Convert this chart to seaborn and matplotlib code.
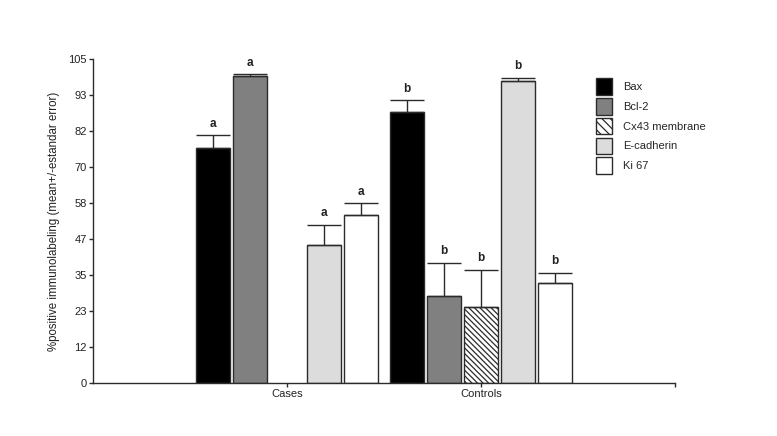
import numpy as np
import pandas as pd
import matplotlib
matplotlib.use('Agg')
import matplotlib.pyplot as plt
import seaborn as sns

# values
groups = ['Cases', 'Controls']
markers = ['Bax', 'Bcl-2', 'Cx43 membrane', 'E-cadherin', 'Ki 67']
cases_mean = [76.0, 99.5, np.nan, 44.8, 54.4]
cases_err = [4.3, 0.6, np.nan, 6.5, 3.8]
controls_mean = [87.7, 28.2, 24.5, 97.9, 32.5]
controls_err = [3.9, 10.7, 12.1, 1.1, 3.2]
cases_letter = ['a', 'a', '', 'a', 'a']
controls_letter = ['b', 'b', 'b', 'b', 'b']
ytick_vals = [0, 105 / 9, 2 * 105 / 9, 35, 4 * 105 / 9, 5 * 105 / 9, 70, 7 * 105 / 9, 8 * 105 / 9, 105]
ytick_labels = ['0', '12', '23', '35', '47', '58', '70', '82', '93', '105']

colors = {'Bax': '#000000', 'Bcl-2': '#808080', 'Cx43 membrane': '#ffffff',
          'E-cadherin': '#dcdcdc', 'Ki 67': '#ffffff'}
edge = '#2b2b2b'
hatch = '\\' * 6

# build long table, drop the missing Cx43 bar for cases
df = pd.DataFrame({
    'group': ['Cases'] * 5 + ['Controls'] * 5,
    'marker': markers * 2,
    'value': cases_mean + controls_mean,
    'err': cases_err + controls_err,
    'letter': cases_letter + controls_letter,
})
df = df.dropna(subset=['value']).reset_index(drop=True)

sns.set_style('white')
plt.rcParams['font.family'] = ['Liberation Sans', 'DejaVu Sans']
plt.rcParams['hatch.linewidth'] = 0.9

fig = plt.figure(figsize=(7.77, 4.36), dpi=100)
ax = fig.add_axes([0.1197, 0.1216, 0.7490, 0.7431])

sns.barplot(data=df, x='group', y='value', hue='marker', order=groups, hue_order=markers,
            palette=colors, width=0.95, gap=0.07, edgecolor=edge, linewidth=1.0,
            errorbar=None, ax=ax)

# one-sided error bars + letters, matched to bars by height
bars = [p for p in ax.patches if p.get_height() > 0]
for _, row in df.iterrows():
    p = min(bars, key=lambda b: abs(b.get_height() - row['value']))
    xc = p.get_x() + p.get_width() / 2
    if row['marker'] == 'Cx43 membrane':
        p.set_hatch(hatch)
    ax.errorbar(xc, row['value'], yerr=[[0], [row['err']]], fmt='none', ecolor=edge,
                elinewidth=1.0, capsize=12.5, capthick=1.0, zorder=3)
    ax.annotate(row['letter'], (xc, row['value'] + row['err']), xytext=(0, 4),
                textcoords='offset points', ha='center', va='bottom',
                fontsize=8.5, fontweight='bold', color='#222222')

ax.set_xlim(-1, 2)
ax.set_ylim(0, 105)
ax.set_yticks(ytick_vals)
ax.set_yticklabels(ytick_labels)
ax.set_xticks([0, 1, 2])
ax.set_xticklabels(groups + [''])
ax.tick_params(axis='both', direction='out', length=3, width=1, color=edge,
               labelsize=8, labelcolor='#222222', pad=1.5, left=True, bottom=True)
ax.set_xlabel('')
ax.set_ylabel('%positive immunolabeling (mean+/-estandar error)', fontsize=8.3,
              color='#222222', labelpad=6)
sns.despine(ax=ax)
for s in ['left', 'bottom']:
    ax.spines[s].set_color(edge)
    ax.spines[s].set_linewidth(1.0)

# legend with square boxes
old = ax.get_legend()
handles = old.legend_handles
labels = [t.get_text() for t in old.get_texts()]
old.remove()
for h, m in zip(handles, labels):
    h.set_edgecolor(edge)
    h.set_linewidth(1.0)
    h.set_facecolor(colors[m])
    if m == 'Cx43 membrane':
        h.set_hatch('\\' * 4)
ax.legend(handles, labels, loc='upper left', bbox_to_anchor=(0.864, 0.94), frameon=False,
          fontsize=8, handlelength=1.49, handleheight=1.91, labelspacing=0.29,
          handletextpad=1.0, borderpad=0, borderaxespad=0)

fig.savefig('out.png', dpi=100)
